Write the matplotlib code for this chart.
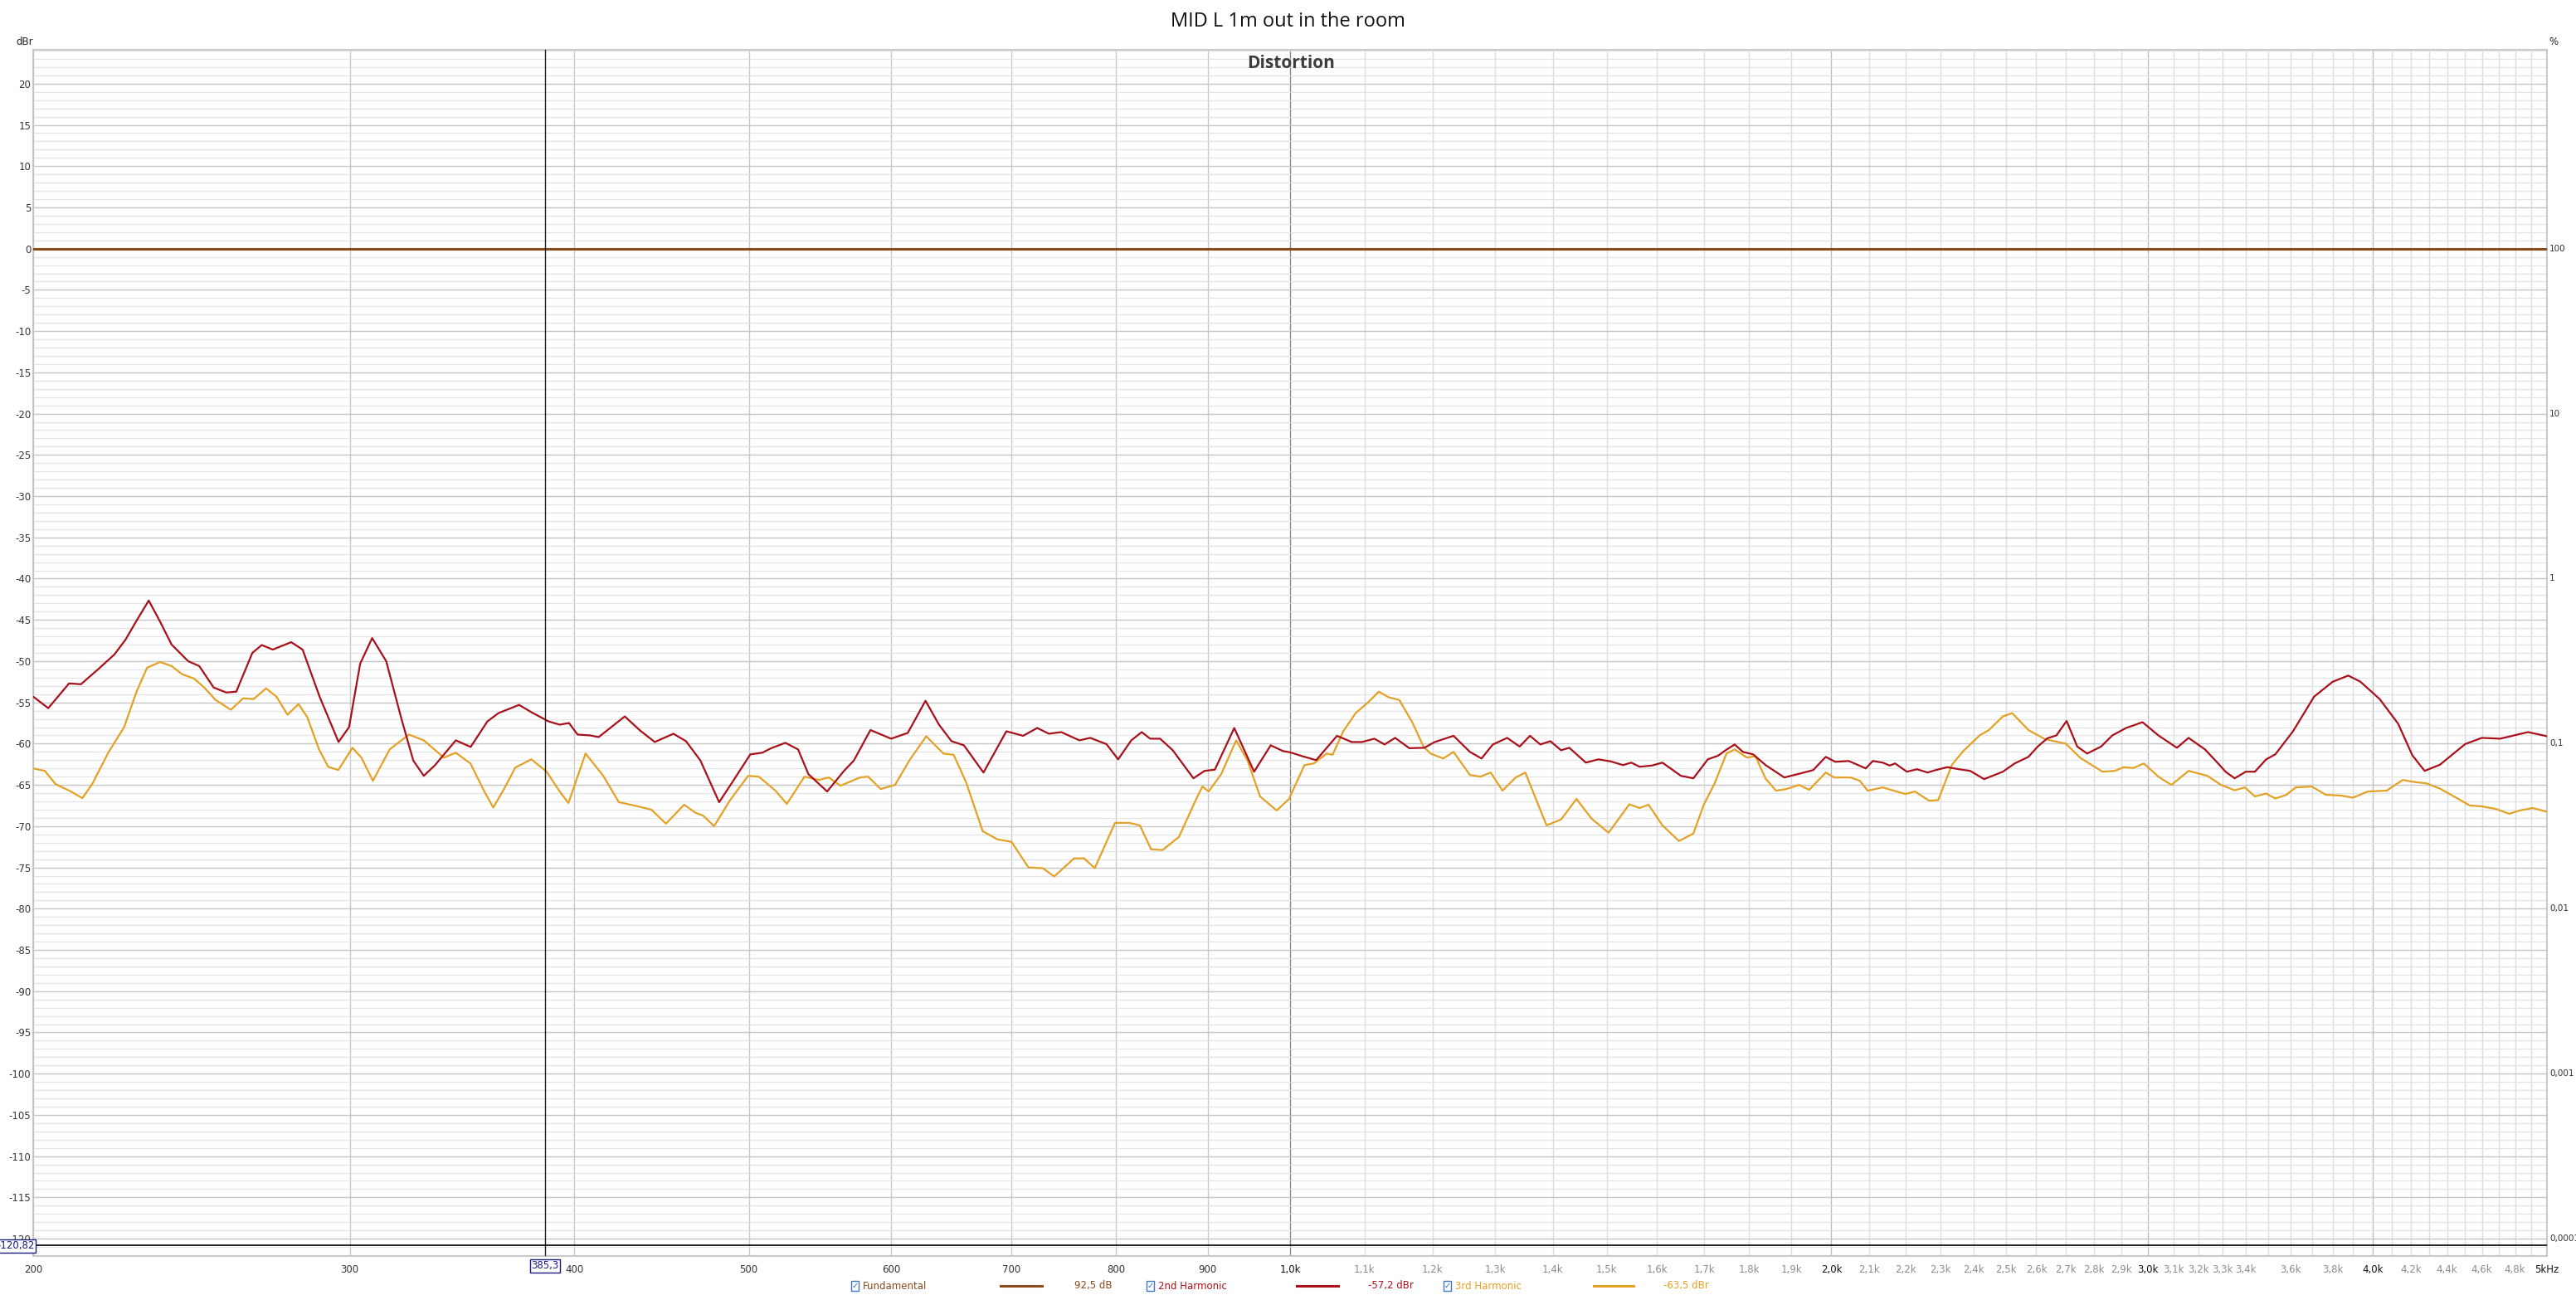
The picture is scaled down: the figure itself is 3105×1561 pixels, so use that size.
import matplotlib
matplotlib.use("Agg")
import matplotlib.pyplot as plt
from matplotlib.patches import Rectangle
from matplotlib.lines import Line2D
from matplotlib.ticker import MultipleLocator, NullFormatter

#--------------------------------------------------------------------------------------------------------------------#

# Datos (frecuencia en Hz, nivel en dBr)
freq_h2 = [200, 203.9, 209.4, 212.6, 217.3, 221.9, 225.1, 228.3, 231.9, 235.4, 238.8, 243.9, 247.4, 252.0, 256.1,
           259.4, 264.8, 268.0, 271.8, 278.3, 282.4, 288.6, 295.7, 299.7, 304.0, 308.7, 314.3, 320.5, 325.4, 329.8,
           334.6, 343.6, 350.2, 357.8, 362.9, 372.6, 378.6, 386.9, 392.5, 397.2, 401.6, 408, 412.6, 426.6, 435,
           443.3, 454, 461.4, 470, 481.4, 490.5, 501, 508.7, 514.6, 524, 532.6, 539.7, 552.8, 564.6, 572, 584.3,
           600, 612.9, 627, 637.9, 648.2, 658.6, 675.3, 695.4, 710.5, 723.4, 734.3, 746, 763.6, 774.2, 790.5, 802.4,
           816, 827, 836, 846.7, 860.5, 883.6, 896.3, 908.2, 931, 955, 975.5, 991, 1000, 1015, 1034, 1062, 1082,
           1096.5, 1114, 1128.6, 1144, 1165, 1187.6, 1203.6, 1232.8, 1259, 1277.8, 1296.5, 1320.6, 1341.7, 1359.6,
           1377.8, 1395.6, 1414.7, 1429.8, 1460.5, 1484, 1507.6, 1531.7, 1548, 1564.5, 1589.6, 1610.8, 1649.6, 1676,
           1707.4, 1730.2, 1746.6, 1767, 1785.8, 1809.3, 1838.5, 1883, 1923, 1954, 1985.6, 2010, 2045, 2090, 2109,
           2136, 2155, 2170, 2203, 2232, 2262, 2286, 2320, 2355, 2389, 2432, 2491, 2529, 2574, 2605, 2637, 2668,
           2703, 2740, 2775, 2825, 2866, 2917, 2979, 3040, 3113, 3160, 3227, 3285, 3313, 3352, 3400, 3440, 3490,
           3531, 3612, 3711, 3800, 3877, 3938, 4036, 4133, 4208, 4275, 4360, 4503, 4600, 4709, 4794, 4880, 5000]
nivel_h2 = [-54.3, -55.7, -52.7, -52.8, -51.0, -49.2, -47.4, -45.1, -42.65, -45.3, -48.0, -50.0, -50.6, -53.2, -53.8,
            -53.7, -49.0, -48.05, -48.6, -47.7, -48.6, -54.3, -59.8, -58.0, -50.3, -47.2, -50.0, -57.0, -62.05, -63.9,
            -62.6, -59.6, -60.4, -57.3, -56.3, -55.3, -56.2, -57.3, -57.7, -57.5, -58.9, -59.0, -59.2, -56.7, -58.4,
            -59.8, -58.8, -59.7, -62.05, -67.1, -64.4, -61.3, -61.1, -60.55, -59.9, -60.7, -63.7, -65.8, -63.35, -62.05, -58.35,
            -59.4, -58.7, -54.8, -57.7, -59.7, -60.2, -63.5, -58.5, -59.05, -58.1, -58.8, -58.6, -59.6, -59.3, -60.06, -61.9,
            -59.6, -58.6, -59.4, -59.4, -60.8, -64.2, -63.3, -63.15, -58.1, -63.4, -60.2, -60.9, -61.05, -61.5, -62.0, -59.05, -59.8,
            -59.8, -59.4, -60.1, -59.3, -60.55, -60.5, -59.8, -59.05, -61.0, -61.8, -60.1, -59.3, -60.35, -59.05,
            -60.1, -59.7, -60.8, -60.5, -62.3, -61.9, -62.15, -62.6, -62.3, -62.8, -62.65, -62.3, -63.9, -64.2,
            -61.9, -61.45, -60.8, -60.1, -61.0, -61.3, -62.6, -64.1, -63.6, -63.2, -61.6, -62.2, -62.1, -63.0, -62.1,
            -62.3, -62.65, -62.4, -63.4, -63.1, -63.5, -63.2, -62.85, -63.1, -63.3, -64.3, -63.4, -62.4, -61.6, -60.35, -59.35, -59.0,
            -57.25, -60.35, -61.2, -60.35, -59.0, -58.1, -57.4, -59.0, -60.5, -59.3, -60.7, -62.5, -63.4, -64.2, -63.4, -63.4, -61.9,
            -61.3, -58.5, -54.3, -52.5, -51.75, -52.5, -54.6, -57.6, -61.4, -63.3, -62.55, -60.05, -59.3, -59.4, -59.0, -58.6, -59.1]

freq_h3 = [200, 203, 205.8, 209.7, 213.0, 215.7, 220.3, 224.7, 228.3, 231.4, 235.3, 238.8, 242.1, 245.7, 249.0, 252.6,
           257.6, 261.7, 265.2, 269.5, 273.1, 277.0, 280.9, 284.1, 288.4, 291.8, 295.6, 301, 304.5, 309, 315.7, 323.6,
           329.8, 338.4, 343.6, 350.1, 356.3, 360.5, 365.7, 370.8, 378.5, 386, 392.2, 396.9, 401, 405.7, 415, 423.4,
           431.9, 441.4, 449.7, 460.3, 467.2, 471.5, 478.3, 488, 499.6, 506.5, 517.4, 525, 537, 547, 554, 562.3,
           576.5, 582.6, 592, 603, 614.3, 627.6, 641.5, 650, 660.5, 674.6, 687.4, 700, 715.3, 728.7, 739.3, 758.4,
           768.2, 778.7, 799.2, 814, 825, 837, 849.3, 867.4, 886.8, 893.8, 901, 915.6, 933.3, 947, 962.3, 983,
           998.7, 1018.6, 1031, 1048, 1056, 1070.5, 1087.6, 1105, 1120.3, 1135, 1150, 1169, 1186.6, 1197.3, 1216.6,
           1232.8, 1259, 1276, 1293, 1312.6, 1335, 1351.5, 1388.7, 1414.7, 1443, 1471.4, 1503.6, 1544, 1564.5,
           1582.6, 1610.8, 1645.4, 1676, 1698.5, 1721.6, 1748.6, 1767, 1795.5, 1814.5, 1838.5, 1863, 1888, 1919,
           1944, 1985.6, 2007, 2050, 2074, 2095, 2136, 2174, 2199, 2226, 2266, 2293, 2334, 2368, 2418, 2447, 2491,
           2521, 2574, 2629, 2700, 2750, 2830, 2875, 2908, 2944, 2984, 3040, 3091, 3160, 3237, 3294, 3352, 3396,
           3440, 3490, 3531, 3582, 3624, 3700, 3767, 3844, 3900, 3975, 4072, 4157, 4220, 4283, 4360, 4439, 4530,
           4600, 4681, 4764, 4829, 4909, 5000]
nivel_h3 = [-63.0, -63.3, -64.9, -65.75, -66.6, -64.9, -61.0, -58.0, -53.7, -50.8, -50.1, -50.6, -51.6, -52.1, -53.2, -54.7,
            -55.9, -54.5, -54.6, -53.3, -54.3, -56.5, -55.2, -56.8, -60.7, -62.8, -63.2, -60.5, -61.7, -64.5, -60.7, -58.9,
            -59.6, -61.7, -61.1, -62.4, -65.75, -67.75, -65.4, -62.9, -61.9, -63.4, -65.7, -67.2, -64.4, -61.2, -63.9, -67.1,
            -67.5, -68.0, -69.7, -67.4, -68.4, -68.7, -70.0, -66.9, -63.9, -64.0, -65.7, -67.3, -64.0, -64.4, -64.1, -65.1,
            -64.1, -64.0, -65.5, -65.0, -62.0, -59.1, -61.2, -61.35, -64.7, -70.6, -71.6, -71.9, -75.0, -75.1, -76.1, -73.9,
            -73.9, -75.1, -69.6, -69.6, -69.9, -72.8, -72.9, -71.3, -66.7, -65.2, -65.8, -63.7, -59.6, -62.05, -66.4, -68.1,
            -66.7, -62.6, -62.4, -61.2, -61.35, -58.5, -56.3, -55.0, -53.7, -54.4, -54.7, -57.35, -60.4, -61.2, -61.8,
            -61.0, -63.8, -64.0, -63.5, -65.7, -64.1, -63.5, -69.9, -69.2, -66.7, -69.1, -70.8, -67.35, -67.8,
            -67.4, -69.9, -71.8, -70.9, -67.4, -64.9, -61.2, -60.7, -61.7, -61.5, -64.25, -65.7, -65.5, -65.0,
            -65.6, -63.5, -64.1, -64.1, -64.5, -65.7, -65.3, -65.8, -66.1, -65.8, -66.9, -66.85, -62.55, -60.9, -59.0, -58.35, -56.7,
            -56.3, -58.35, -59.45, -60.0, -61.7, -63.4, -63.3, -62.85, -62.95, -62.4, -64.0, -65.0, -63.3, -63.9, -65.0, -65.65, -65.3,
            -66.4, -66.05, -66.65, -66.2, -65.3, -65.2, -66.2, -66.3, -66.55, -65.8, -65.7, -64.4, -64.65, -64.8, -65.45, -66.4, -67.5,
            -67.6, -67.9, -68.5, -68.1, -67.8, -68.25]

# Fundamental normalizada a 0 dBr
freq_fund = [200, 5000]
nivel_fund = [0, 0]

# Ejes
x_ticks = [200, 300, 400, 500, 600, 700, 800, 900, 1000, 1100, 1200, 1300, 1400, 1500, 1600, 1700, 1800, 1900,
           2000, 2100, 2200, 2300, 2400, 2500, 2600, 2700, 2800, 2900, 3000, 3100, 3200, 3300, 3400, 3500, 3600,
           3700, 3800, 3900, 4000, 4100, 4200, 4300, 4400, 4500, 4600, 4700, 4800, 4900, 5000]
x_labels = ['200', '300', '400', '500', '600', '700', '800', '900', '1,0k', '1,1k', '1,2k', '1,3k', '1,4k', '1,5k',
            '1,6k', '1,7k', '1,8k', '1,9k', '2,0k', '2,1k', '2,2k', '2,3k', '2,4k', '2,5k', '2,6k', '2,7k', '2,8k',
            '2,9k', '3,0k', '3,1k', '3,2k', '3,3k', '3,4k', '', '3,6k', '', '3,8k', '', '4,0k', '', '4,2k', '',
            '4,4k', '', '4,6k', '', '4,8k', '', '5kHz']
y_ticks = list(range(-120, 21, 5))
pct_niveles = [0, -20, -40, -60, -80, -100, -120]
pct_labels = ['100', '10', '1', '0,1', '0,01', '0,001', '0,0001']

cursor_freq = 385.3
cursor_nivel = -120.82

leyenda = ['Fundamental', '2nd Harmonic', '3rd Harmonic']
leyenda_valor = ['92,5 dB', '-57,2 dBr', '-63,5 dBr']

#--------------------------------------------------------------------------------------------------------------------#

plt.rcParams['font.family'] = ['Liberation Sans Narrow', 'DejaVu Sans']

W, H = 3105, 1561
fig = plt.figure(figsize=(W / 100, H / 100), dpi=100)
fig.patch.set_facecolor('white')


def fx(px):
    return px / W


def fy(py):
    return 1 - py / H


ax = fig.add_axes([fx(40), fy(1514), fx(3070) - fx(40), fy(60) - fy(1514)])
ax.set_xscale('log')
ax.set_xlim(200, 5000)
ax.set_ylim(-122.1, 24.1)

col_fund = '#8b4a1c'
col_h2 = '#a8101a'
col_h3 = '#e3a126'

# Rejilla
ax.yaxis.set_minor_locator(MultipleLocator(1))
ax.grid(which='minor', axis='y', color='#e3e3e3', linewidth=0.9)
ax.set_yticks(y_ticks)
ax.grid(which='major', axis='y', color='#c6c6c6', linewidth=1.0)
for f in x_ticks:
    if f == 1000:
        c = '#8a8a8a'
    elif f in (2000, 3000, 4000):
        c = '#bdbdbd'
    elif f < 1000:
        c = '#c8c8c8'
    else:
        c = '#dedede'
    ax.axvline(f, color=c, linewidth=1.0, zorder=0.5)
ax.set_axisbelow(True)

for s in ax.spines.values():
    s.set_color('#c0c0c0')
    s.set_linewidth(1.2)

# Curvas
ax.plot(freq_fund, nivel_fund, color=col_fund, linewidth=2.2, zorder=3)
ax.plot(freq_h3, nivel_h3, color=col_h3, linewidth=1.6, zorder=3,
        solid_joinstyle='round', solid_capstyle='round')
ax.plot(freq_h2, nivel_h2, color=col_h2, linewidth=1.6, zorder=4,
        solid_joinstyle='round', solid_capstyle='round')

# Cursores
ax.axvline(cursor_freq, color='#202020', linewidth=1.0, zorder=5)
ax.axhline(cursor_nivel, color='#000000', linewidth=1.2, zorder=5)

# Ticks
ax.set_xticks(x_ticks)
ax.set_xticklabels(x_labels)
ax.xaxis.set_minor_formatter(NullFormatter())
ax.tick_params(axis='x', which='both', length=0, pad=7, labelsize=8.5)
ax.tick_params(axis='y', which='both', length=0, pad=2, labelsize=8.5, labelcolor='#333333')
ax.set_yticklabels([str(v) for v in y_ticks])
for lab in ax.get_xticklabels():
    t = lab.get_text()
    if t in ('1,0k', '2,0k', '3,0k', '4,0k', '5kHz'):
        lab.set_color('#111111')
    elif t.endswith('k'):
        lab.set_color('#8c8c8c')
    else:
        lab.set_color('#333333')

# Eje derecho en %
for nv, lb in zip(pct_niveles, pct_labels):
    ax.text(1.001, nv, lb, transform=ax.get_yaxis_transform(), ha='left', va='center',
            fontsize=7.5, color='#333333', clip_on=False)

fig.text(fx(30), fy(50), 'dBr', ha='center', va='center', fontsize=8.5, color='#222222')
fig.text(fx(3078), fy(50), '%', ha='center', va='center', fontsize=8.5, color='#222222')

# Titulos
fig.text(fx(1552), fy(26), 'MID L 1m out in the room', ha='center', va='center',
         fontsize=17, color='#111111', family=['Open Sans', 'DejaVu Sans'])
fig.text(fx(1556), fy(77), 'Distortion', ha='center', va='center', fontsize=15,
         fontweight='bold', color='#3c3c3c', family=['Open Sans', 'DejaVu Sans'])

# Etiquetas de cursor
azul = '#1a1a80'
fig.text(fx(19), fy(1502), '-120,82', ha='center', va='center', fontsize=8.5, color=azul,
         bbox=dict(boxstyle='square,pad=0.15', facecolor='white', edgecolor=azul, linewidth=1.0))
fig.text(fx(657), fy(1526), '385,3', ha='center', va='center', fontsize=8.5, color=azul,
         bbox=dict(boxstyle='square,pad=0.15', facecolor='white', edgecolor=azul, linewidth=1.0))

# Leyenda inferior
ley_y = 1550
ley_cols = [col_fund, col_h2, col_h3]
ley_text_cols = ['#8b4a1c', '#b0101a', '#e8a020']
caja_x = [1030, 1386, 1744]
linea_x = [(1206, 1256), (1563, 1613), (1921, 1969)]
valor_x = [1318, 1676, 2032]
for i in range(3):
    fig.add_artist(Rectangle((fx(caja_x[i] - 4), fy(ley_y + 6)), 9 / W, 12 / H, transform=fig.transFigure,
                             facecolor='white', edgecolor='#3a78c8', linewidth=1.0))
    fig.text(fx(caja_x[i] + 0.5), fy(ley_y), '\u2713', ha='center', va='center', fontsize=7,
             color='#2a62b0', family=['DejaVu Sans'])
    fig.text(fx(caja_x[i] + 10), fy(ley_y), leyenda[i], ha='left', va='center', fontsize=8.5,
             color=ley_text_cols[i])
    fig.add_artist(Line2D([fx(linea_x[i][0]), fx(linea_x[i][1])], [fy(ley_y), fy(ley_y)],
                          transform=fig.transFigure, color=ley_cols[i], linewidth=2.2))
    fig.text(fx(valor_x[i]), fy(ley_y), leyenda_valor[i], ha='center', va='center', fontsize=8.5,
             color=ley_text_cols[i])

fig.savefig('out.png', dpi=100, facecolor='white')
